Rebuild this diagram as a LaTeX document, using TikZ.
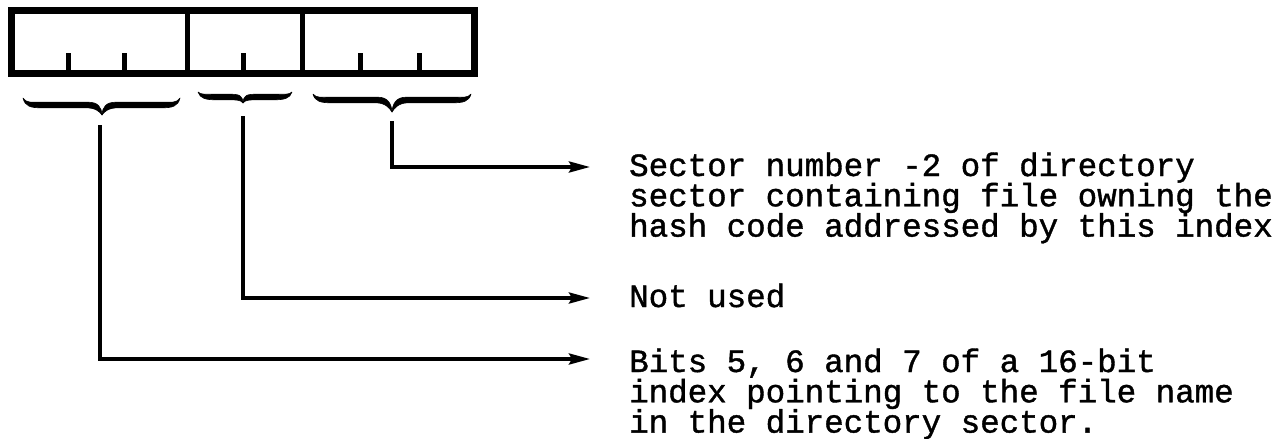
\documentclass[tikz,border=0pt]{standalone}
\usepackage{fontspec}
\usetikzlibrary{arrows.meta}
\newfontfamily\typefont[FakeBold=1.2]{Liberation Mono}

% one filled, tapered half of a curly brace: end x, tip x, end y, body y, tip y, direction (+1 left half, -1 right half)
\newcommand{\halfbrace}[6]{%
  \fill[draw,line width=0.6pt,line join=round]
    (#1,#3) .. controls ({#1+#6*2},{#4+1.5}) and ({#1+#6*8},{#4+2.8}) .. ({#1+#6*18},{#4+2.8})
    -- ({#2-#6*16},{#4+2.8}) .. controls ({#2-#6*6},{#4+2.8}) and ({#2-#6*2},{#5-3}) .. (#2,#5)
    .. controls ({#2-#6*0.5},{#5-8}) and ({#2-#6*4},{#4-2.8}) .. ({#2-#6*14},{#4-2.8})
    -- ({#1+#6*18},{#4-2.8}) .. controls ({#1+#6*8},{#4-2.8}) and ({#1+#6*3},{#4-2}) .. (#1,#3) -- cycle;}
% full brace: left x, right x, tip x, end y, body y, tip y
\newcommand{\fieldbrace}[6]{\halfbrace{#1}{#3}{#4}{#5}{#6}{1}\halfbrace{#2}{#3}{#4}{#5}{#6}{-1}}

\begin{document}
\begin{tikzpicture}[x=1pt,y=-1pt,
  frame/.style={line width=7pt},
  divider/.style={line width=5pt},
  conn/.style={line width=3.5pt,line join=miter,-{Stealth[length=21pt,width=11pt,inset=3pt]}},
  label/.style={anchor=base west,inner sep=0pt,align=left,
    font=\typefont\fontsize{32.5}{30.3}\selectfont}]
\fill[white] (0,0) rectangle (1283,439);
\useasboundingbox (0,0) rectangle (1283,439);

% the three-field word
\draw[frame] (11.5,10.5) rectangle (474.5,73.5);
\draw[divider] (187,10.5) -- (187,73.5);
\draw[divider] (302,10.5) -- (302,73.5);
\foreach \tx in {68,124,243,360,419}
  \draw[divider] (\tx,53) -- (\tx,73.5);

% braces under the fields
\fieldbrace{23}{180}{102}{98}{105}{115}
\fieldbrace{198}{292}{243}{92}{97}{103}
\fieldbrace{313}{471}{392}{94}{100}{112}

% leader start points and arrow ends
\coordinate (s1) at (100,125);
\coordinate (s2) at (243,116);
\coordinate (s3) at (392,121);
\coordinate (e1) at (590,359);
\coordinate (e2) at (590,298);
\coordinate (e3) at (590,167);

% descriptions (each node sits on the baseline of its last line)
\node[label] (d3) at (629,236.6) {Sector number -2 of directory\\sector containing file owning the\\hash code addressed by this index};
\node[label] (d2) at (629,307) {Not used};
\node[label] (d1) at (629,432.6) {Bits 5, 6 and 7 of a 16-bit\\index pointing to the file name\\in the directory sector.};

% leaders
\draw[conn] (s3) |- (e3);
\draw[conn] (s2) |- (e2);
\draw[conn] (s1) |- (e1);
\end{tikzpicture}
\end{document}
